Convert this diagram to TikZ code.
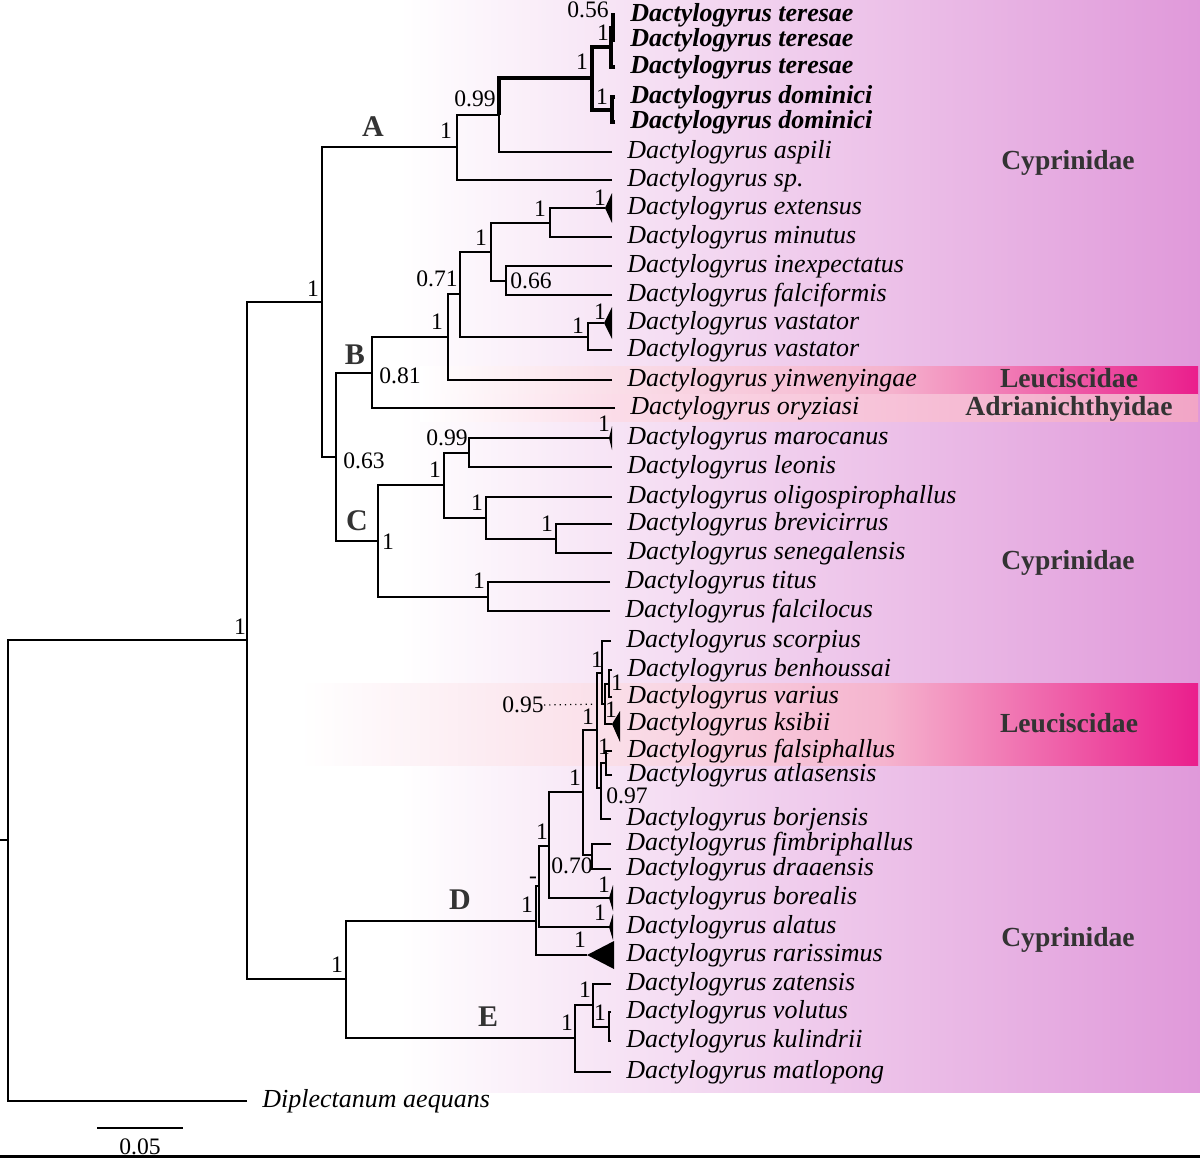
\documentclass[tikz,border=0pt]{standalone}
\usepackage{fontspec}
\setmainfont{Liberation Serif}
\usepackage{tikz}
\usetikzlibrary{calc}
\definecolor{orch}{RGB}{224,153,218}
\definecolor{darkgr}{RGB}{51,51,51}
\definecolor{pinkA}{RGB}{250,222,232}
\definecolor{pinkB}{RGB}{245,180,206}
\definecolor{hotpink}{RGB}{234,30,140}
\definecolor{adrA}{RGB}{251,220,232}
\definecolor{adrB}{RGB}{242,165,198}
\pgfdeclarehorizontalshading{leucup}{100bp}{color(0bp)=(white); color(25bp)=(white); color(37.5bp)=(pinkA); color(55bp)=(pinkB); color(75bp)=(hotpink); color(100bp)=(hotpink)}
\pgfdeclarehorizontalshading{leucdown}{100bp}{color(0bp)=(white); color(25bp)=(white); color(42.5bp)=(pinkA); color(57.5bp)=(pinkB); color(75bp)=(hotpink); color(100bp)=(hotpink)}
\pgfdeclarehorizontalshading{adrband}{100bp}{color(0bp)=(white); color(25bp)=(white); color(37.5bp)=(adrA); color(75bp)=(adrB); color(100bp)=(adrB)}
\tikzset{
  br/.style={line width=1pt},
  brb/.style={line width=2pt},
  leaf/.style={anchor=west, inner xsep=7.5pt, inner ysep=0pt, text height=9pt, text depth=2.8pt,
    font=\fontsize{13}{15}\selectfont\itshape},
  bleaf/.style={leaf, font=\fontsize{13}{15}\selectfont\bfseries\itshape},
  bs/.style={inner sep=0pt, font=\fontsize{11.8}{13}\selectfont},
  clade/.style={inner sep=0pt, text=darkgr, font=\fontsize{15}{17}\selectfont\bfseries},
  fam/.style={inner sep=0pt, text height=9.4pt, text depth=0.5pt, text=darkgr, font=\fontsize{13.8}{16}\selectfont\bfseries}
}

\begin{document}
\begin{tikzpicture}[x=0.5pt,y=-0.5pt]
\useasboundingbox (0,0) rectangle (1200,1158);
% background and host bands
\shade[left color=white, right color=orch] (400,0) rectangle (1200,1092);
\shade[shading=leucup] (420,366) rectangle (1198,394);
\shade[shading=adrband] (420,394) rectangle (1198,421);
\shade[shading=leucdown] (300,683) rectangle (1198,765);

% internal nodes
\coordinate (stub) at (0,840);
\coordinate (rt) at (8,840);
\coordinate (ing) at (247,640);
\coordinate (abc) at (322,302);
\coordinate (nA) at (457,147);
\coordinate (nA1) at (499,115);
\coordinate (nA2) at (592,78);
\coordinate (nTe) at (611,47);
\coordinate (nTe1) at (613,27.5);
\coordinate (nDo) at (612,109.5);
\coordinate (bc) at (336,457);
\coordinate (nB) at (372,372.5);
\coordinate (nB1) at (448,337);
\coordinate (nB2) at (460,294);
\coordinate (nB3) at (491,251.5);
\coordinate (nEx) at (550,222.5);
\coordinate (exT) at (605,208);
\coordinate (nIn) at (506,280.5);
\coordinate (nVa) at (588,336.5);
\coordinate (vaT) at (604,323);
\coordinate (nC) at (378,541);
\coordinate (nC1) at (444,485);
\coordinate (nMa) at (469,452.5);
\coordinate (maT) at (609,438);
\coordinate (nOl) at (486,518);
\coordinate (nBr) at (556,538.5);
\coordinate (nTi) at (488,596.5);
\coordinate (de) at (346,979);
\coordinate (nD) at (536,920.5);
\coordinate (raT) at (587,955);
\coordinate (nD1) at (539,886);
\coordinate (alT) at (609,927);
\coordinate (nD2) at (549,845.5);
\coordinate (boT) at (609,898);
\coordinate (nD3) at (583,792);
\coordinate (nFi) at (592,855);
\coordinate (nL) at (597,730);
\coordinate (nSc) at (602,672.5);
\coordinate (nT) at (605,704);
\coordinate (nBe) at (609,683.5);
\coordinate (ksT) at (612,724);
\coordinate (nR) at (601,788);
\coordinate (nS) at (606,763);
\coordinate (nE) at (575,1038);
\coordinate (nZa) at (593,1005);
\coordinate (nVo) at (609,1026.5);

% taxa
\node[bleaf] (te1) at (615,15) {Dactylogyrus teresae};
\node[bleaf] (te2) at (615,40) {Dactylogyrus teresae};
\node[bleaf] (te3) at (615,67) {Dactylogyrus teresae};
\node[bleaf] (do1) at (615,97) {Dactylogyrus dominici};
\node[bleaf] (do2) at (615,122) {Dactylogyrus dominici};
\node[leaf] (asp) at (612,152) {Dactylogyrus aspili};
\node[leaf] (spp) at (612,180) {Dactylogyrus sp.};
\node[leaf] (ext) at (612,208) {Dactylogyrus extensus};
\node[leaf] (min) at (612,237) {Dactylogyrus minutus};
\node[leaf] (inx) at (612,266) {Dactylogyrus inexpectatus};
\node[leaf] (fal) at (612,295) {Dactylogyrus falciformis};
\node[leaf] (va1) at (612,323) {Dactylogyrus vastator};
\node[leaf] (va2) at (612,350) {Dactylogyrus vastator};
\node[leaf] (yin) at (612,380) {Dactylogyrus yinwenyingae};
\node[leaf] (ory) at (615,408) {Dactylogyrus oryziasi};
\node[leaf] (mar) at (612,438) {Dactylogyrus marocanus};
\node[leaf] (leo) at (612,467) {Dactylogyrus leonis};
\node[leaf] (oli) at (612,497) {Dactylogyrus oligospirophallus};
\node[leaf] (bre) at (612,524) {Dactylogyrus brevicirrus};
\node[leaf] (sen) at (612,553) {Dactylogyrus senegalensis};
\node[leaf] (tit) at (610,582) {Dactylogyrus titus};
\node[leaf] (fco) at (610,611) {Dactylogyrus falcilocus};
\node[leaf] (sco) at (611,641) {Dactylogyrus scorpius};
\node[leaf] (ben) at (612,670) {Dactylogyrus benhoussai};
\node[leaf] (var) at (612,697) {Dactylogyrus varius};
\node[leaf] (ksi) at (612,724) {Dactylogyrus ksibii};
\node[leaf] (fsi) at (612,751) {Dactylogyrus falsiphallus};
\node[leaf] (atl) at (612,775) {Dactylogyrus atlasensis};
\node[leaf] (bor) at (611,819) {Dactylogyrus borjensis};
\node[leaf] (fim) at (611,844) {Dactylogyrus fimbriphallus};
\node[leaf] (dra) at (611,869) {Dactylogyrus draaensis};
\node[leaf] (bol) at (611,898) {Dactylogyrus borealis};
\node[leaf] (ala) at (611,927) {Dactylogyrus alatus};
\node[leaf] (rar) at (611,955) {Dactylogyrus rarissimus};
\node[leaf] (zat) at (611,984) {Dactylogyrus zatensis};
\node[leaf] (vol) at (611,1012) {Dactylogyrus volutus};
\node[leaf] (kul) at (611,1041) {Dactylogyrus kulindrii};
\node[leaf] (mat) at (611,1072) {Dactylogyrus matlopong};
\node[leaf] (dip) at (247,1101) {Diplectanum aequans};

% root and backbone
\draw[br] (stub) -- (rt);
\draw[br] (ing) -| (rt);
\draw[br] (dip.west) -| (rt);
\draw[br] (abc) -| (ing);
\draw[br] (de) -| (ing);
% clade A
\draw[br] (nA) -| (abc);
\draw[br] (bc) -| (abc);
\draw[br] (nA1) -| (nA);
\draw[br] (spp.west) -| (nA);
\draw[br] (asp.west) -| (nA1);
\draw[brb] (nA2) -| (nA1);
\draw[brb] (nTe) -| (nA2);
\draw[brb] (nDo) -| (nA2);
\draw[brb] (nTe1) -| (nTe);
\draw[brb] (te3.west) -| (nTe);
\draw[brb] (te1.west) -| (nTe1);
\draw[brb] (te2.west) -| (nTe1);
\draw[brb] (do1.west) -| (nDo);
\draw[brb] (do2.west) -| (nDo);
% clade B
\draw[br] (nB) -| (bc);
\draw[br] (nC) -| (bc);
\draw[br] (nB1) -| (nB);
\draw[br] (ory.west) -| (nB);
\draw[br] (nB2) -| (nB1);
\draw[br] (yin.west) -| (nB1);
\draw[br] (nB3) -| (nB2);
\draw[br] (nVa) -| (nB2);
\draw[br] (nEx) -| (nB3);
\draw[br] (nIn) -| (nB3);
\draw[br] (exT) -| (nEx);
\draw[br] (min.west) -| (nEx);
\fill (exT) -- ++(7,-15) -- ++(0,30) -- cycle;
\draw[br] (inx.west) -| (nIn);
\draw[br] (fal.west) -| (nIn);
\draw[br] (vaT) -| (nVa);
\draw[br] (va2.west) -| (nVa);
\fill (vaT) -- ++(8,-16) -- ++(0,32) -- cycle;
% clade C
\draw[br] (nC1) -| (nC);
\draw[br] (nTi) -| (nC);
\draw[br] (nMa) -| (nC1);
\draw[br] (nOl) -| (nC1);
\draw[br] (maT) -| (nMa);
\draw[br] (leo.west) -| (nMa);
\fill (maT) -- ++(3,-12) -- ++(0,24) -- cycle;
\draw[br] (oli.west) -| (nOl);
\draw[br] (nBr) -| (nOl);
\draw[br] (bre.west) -| (nBr);
\draw[br] (sen.west) -| (nBr);
\draw[br] (tit.west) -| (nTi);
\draw[br] (fco.west) -| (nTi);
% clade D
\draw[br] (nD) -| (de);
\draw[br] (nE) -| (de);
\draw[br] (nD1) -| (nD);
\draw[br] (raT) -| (nD);
\fill (raT) -- ++(27,-14) -- ++(0,28) -- cycle;
\draw[br] (nD2) -| (nD1);
\draw[br] (alT) -| (nD1);
\fill (alT) -- ++(4,-13) -- ++(0,26) -- cycle;
\draw[br] (nD3) -| (nD2);
\draw[br] (boT) -| (nD2);
\fill (boT) -- ++(4,-13) -- ++(0,26) -- cycle;
\draw[br] (nL) -| (nD3);
\draw[br] (nFi) -| (nD3);
\draw[br] (fim.west) -| (nFi);
\draw[br] (dra.west) -| (nFi);
\draw[br] (nSc) -| (nL);
\draw[br] (nR) -| (nL);
\draw[br] (sco.west) -| (nSc);
\draw[br] (nT) -| (nSc);
\draw[br] (nBe) -| (nT);
\draw[br] (ksT) -| (nT);
\fill (ksT) -- ++(8,-13) -- ++(0,31) -- cycle;
\draw[br] (ben.west) -| (nBe);
\draw[br] (var.west) -| (nBe);
\draw[br] (nS) -| (nR);
\draw[br] (bor.west) -| (nR);
\draw[br] (fsi.west) -| (nS);
\draw[br] (atl.west) -| (nS);
% clade E
\draw[br] (nZa) -| (nE);
\draw[br] (mat.west) -| (nE);
\draw[br] (zat.west) -| (nZa);
\draw[br] (nVo) -| (nZa);
\draw[br] (vol.west) -| (nVo);
\draw[br] (kul.west) -| (nVo);

% support values
\node[bs] (sIng) at (240,627) {1};
\node[bs] (sAbc) at (313,289) {1};
\node[bs] (sA) at (446,131) {1};
\node[bs] (sA1) at (475,99) {0.99};
\node[bs] (sA2) at (582,62) {1};
\node[bs] (sTe) at (603,33) {1};
\node[bs] (sTe1) at (588,10) {0.56};
\node[bs] (sDo) at (602,97) {1};
\node[bs] (sBc) at (364,461) {0.63};
\node[bs] (sB) at (400,376) {0.81};
\node[bs] (sB1) at (437,322) {1};
\node[bs] (sB2) at (437,279) {0.71};
\node[bs] (sB3) at (481,238) {1};
\node[bs] (sEx) at (540,209) {1};
\node[bs] (sExT) at (600,198) {1};
\node[bs] (sIn) at (531,281) {0.66};
\node[bs] (sVa) at (578,326) {1};
\node[bs] (sVaT) at (600,312) {1};
\node[bs] (sC) at (388,542) {1};
\node[bs] (sC1) at (435,470) {1};
\node[bs] (sMa) at (447,438) {0.99};
\node[bs] (sMaT) at (604,424) {1};
\node[bs] (sOl) at (477,503) {1};
\node[bs] (sBr) at (547,524) {1};
\node[bs] (sTi) at (479,581) {1};
\node[bs] (sDe) at (337,965) {1};
\node[bs] (sD) at (527,905) {1};
\node[bs] (sD1) at (533,880) {-};
\node[bs] (sD2) at (542,832) {1};
\node[bs] (sD3) at (575,778) {1};
\node[bs] (sL) at (588,717) {1};
\node[bs] (sSc) at (597,660) {1};
\node[bs] (sT) at (523,705) {0.95};
\draw[dotted, line width=0.6pt] (sT.east) -- (nT);
\node[bs] (sBe) at (617,683) {1};
\node[bs] (sKs) at (611,710) {1};
\node[bs] (sS) at (604,747) {1};
\node[bs] (sR) at (627,796) {0.97};
\node[bs] (sFi) at (572,866) {0.70};
\node[bs] (sBo) at (604,885) {1};
\node[bs] (sAl) at (600,913) {1};
\node[bs] (sRa) at (580,940) {1};
\node[bs] (sE) at (567,1023) {1};
\node[bs] (sZa) at (585,990) {1};
\node[bs] (sVo) at (600,1013) {1};

% clade letters
\node[clade] (lA) at (373,127) {A};
\node[clade] (lB) at (355,355) {B};
\node[clade] (lC) at (357,521) {C};
\node[clade] (lD) at (460,900) {D};
\node[clade] (lE) at (488,1017) {E};

% host families
\node[fam] (f1) at (1068,161) {Cyprinidae};
\node[fam] (f2) at (1069,379) {Leuciscidae};
\node[fam] (f3) at (1069,407) {Adrianichthyidae};
\node[fam] (f4) at (1068,561) {Cyprinidae};
\node[fam] (f5) at (1069,724) {Leuciscidae};
\node[fam] (f6) at (1068,938) {Cyprinidae};

% scale bar
\coordinate (sb1) at (97,1128);
\coordinate (sb2) at (183,1128);
\draw[br] (sb1) -- (sb2);
\node[bs] (sbl) at (140,1147) {0.05};
\draw[line width=1.5pt] (0,1156) -- (1200,1156);
\end{tikzpicture}
\end{document}
